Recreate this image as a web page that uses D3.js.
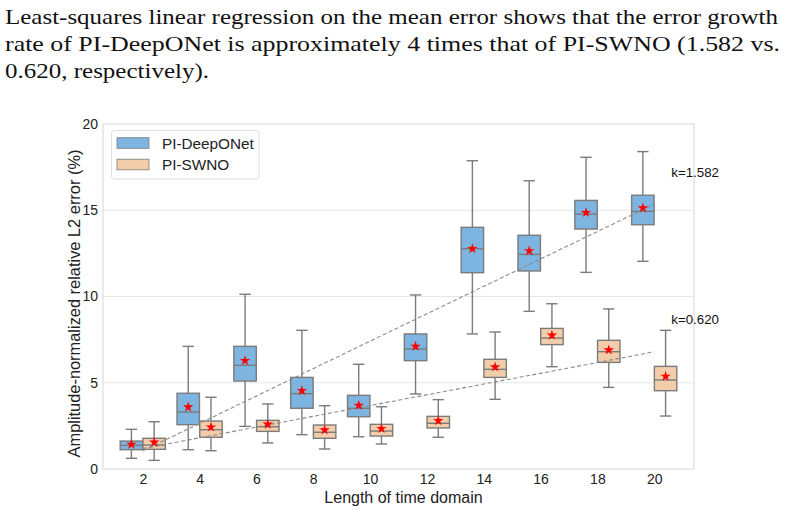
<!DOCTYPE html>
<html>
<head>
<meta charset="utf-8">
<script src="https://cdn.jsdelivr.net/npm/d3@7"></script>
<style>
  html, body { margin: 0; padding: 0; background: #fff; }
  svg { display: block; }
</style>
</head>
<body>
<svg id="chart" width="788" height="510"></svg>
<script>
// ---- Data ----
const categories = [2, 4, 6, 8, 10, 12, 14, 16, 18, 20];
const seriesNames = ["PI-DeepONet", "PI-SWNO"];
const yTicks = [0, 5, 10, 15, 20];

const deeponetLow    = [0.62, 1.12, 2.47, 1.99, 1.87, 4.35, 7.83, 9.14, 11.40, 12.04];
const deeponetQ1     = [1.12, 2.57, 5.10, 3.52, 3.03, 6.28, 11.38, 11.48, 13.91, 14.16];
const deeponetMedian = [1.37, 3.30, 6.01, 4.37, 3.52, 6.96, 12.77, 12.44, 14.78, 14.94];
const deeponetQ3     = [1.62, 4.39, 7.11, 5.31, 4.27, 7.83, 14.01, 13.55, 15.57, 15.87];
const deeponetHigh   = [2.30, 7.11, 10.13, 8.04, 6.07, 10.09, 17.87, 16.71, 18.07, 18.40];
const deeponetMean   = [1.43, 3.59, 6.28, 4.54, 3.69, 7.11, 12.77, 12.64, 14.86, 15.13];

const swnoLow    = [0.50, 1.06, 1.51, 1.16, 1.45, 1.84, 4.04, 5.93, 4.73, 3.07];
const swnoQ1     = [1.14, 1.84, 2.18, 1.78, 1.91, 2.38, 5.31, 7.21, 6.18, 4.54];
const swnoMedian = [1.39, 2.28, 2.45, 2.13, 2.20, 2.65, 5.78, 7.59, 6.80, 5.16];
const swnoQ3     = [1.78, 2.78, 2.82, 2.55, 2.59, 3.05, 6.36, 8.15, 7.46, 5.95];
const swnoHigh   = [2.74, 4.16, 3.77, 3.67, 3.61, 4.02, 7.94, 9.58, 9.28, 8.04];
const swnoMean   = [1.55, 2.43, 2.59, 2.26, 2.34, 2.80, 5.91, 7.75, 6.90, 5.37];

const slopeLabels = ["k=1.582", "k=0.620"];
const slopeLabelY = [17.2, 8.65];
const titleLines = [
  "Least-squares linear regression on the mean error shows that the error growth",
  "rate of PI-DeepONet is approximately 4 times that of PI-SWNO (1.582 vs.",
  "0.620, respectively)."
];

// ---- Build table ----
const colors = ["#7eb5e0", "#f3cdaa"];
const gray = "#7b7b7b";
const series = [
  {name: seriesNames[0], color: colors[0], low: deeponetLow, q1: deeponetQ1, med: deeponetMedian, q3: deeponetQ3, high: deeponetHigh, mean: deeponetMean, off: -0.2},
  {name: seriesNames[1], color: colors[1], low: swnoLow, q1: swnoQ1, med: swnoMedian, q3: swnoQ3, high: swnoHigh, mean: swnoMean, off: 0.2}
];

const svg = d3.select("#chart");

// ---- Title paragraph ----
const titleG = svg.append("g").attr("font-family", "'Liberation Serif', 'Times New Roman', serif")
  .attr("font-size", 22).attr("fill", "#111");
const titleBase = [24, 51, 78];
const titleLen = [773, 775, 204];
titleLines.forEach((t, i) => {
  titleG.append("text").attr("x", 5).attr("y", titleBase[i])
    .attr("textLength", titleLen[i]).attr("lengthAdjust", "spacingAndGlyphs").text(t);
});

// ---- Scales ----
const x = d3.scaleLinear().domain([-0.7, 9.7]).range([103, 694]);
const y = d3.scaleLinear().domain([0, 20]).range([469, 124]);
const unit = x(1) - x(0);

const font = "'Liberation Sans', Arial, sans-serif";

// grid
svg.append("g").selectAll("line").data(yTicks.filter(d => d > 0 && d < 20)).join("line")
  .attr("x1", x.range()[0]).attr("x2", x.range()[1])
  .attr("y1", d => y(d)).attr("y2", d => y(d))
  .attr("stroke", "#e6e6e6").attr("stroke-width", 1.2);

// frame
svg.append("rect").attr("x", 103).attr("y", 124).attr("width", 694 - 103).attr("height", 469 - 124)
  .attr("fill", "none").attr("stroke", "#dcdcdc").attr("stroke-width", 1.2);

// y axis
const yAxis = d3.axisLeft(y).tickValues(yTicks).tickSize(0).tickPadding(5).tickFormat(d3.format("d"));
const yg = svg.append("g").attr("transform", `translate(103,0)`).call(yAxis)
  .attr("font-family", font).attr("font-size", 14);
yg.select(".domain").remove();
yg.selectAll("text").attr("fill", "#222");

// x axis
const xAxis = d3.axisBottom(x).tickValues(d3.range(categories.length)).tickSize(0).tickPadding(5)
  .tickFormat(i => categories[i]);
const xg = svg.append("g").attr("transform", `translate(0,469)`).call(xAxis)
  .attr("font-family", font).attr("font-size", 14);
xg.select(".domain").remove();
xg.selectAll("text").attr("fill", "#222");

// axis labels
svg.append("text").attr("x", (103 + 694) / 2 + 5).attr("y", 503).attr("text-anchor", "middle")
  .attr("font-family", font).attr("font-size", 16).attr("fill", "#222").text("Length of time domain");
svg.append("text").attr("transform", `translate(80,${(124 + 469) / 2 + 7}) rotate(-90)`)
  .attr("text-anchor", "middle").attr("font-family", font).attr("font-size", 16.4).attr("fill", "#222")
  .text("Amplitude-normalized relative L2 error (%)");

// ---- Boxes ----
const bw = 0.395 * unit;
const cw = 0.2 * unit;
series.forEach(s => {
  const g = svg.append("g");
  categories.forEach((c, i) => {
    const cx = x(i + s.off);
    g.append("line").attr("x1", cx).attr("x2", cx).attr("y1", y(s.q3[i])).attr("y2", y(s.high[i]))
      .attr("stroke", gray).attr("stroke-width", 1.4);
    g.append("line").attr("x1", cx).attr("x2", cx).attr("y1", y(s.q1[i])).attr("y2", y(s.low[i]))
      .attr("stroke", gray).attr("stroke-width", 1.4);
    [s.high[i], s.low[i]].forEach(v => {
      g.append("line").attr("x1", cx - cw / 2).attr("x2", cx + cw / 2).attr("y1", y(v)).attr("y2", y(v))
        .attr("stroke", gray).attr("stroke-width", 1.4);
    });
    g.append("rect").attr("x", cx - bw / 2).attr("y", y(s.q3[i]))
      .attr("width", bw).attr("height", y(s.q1[i]) - y(s.q3[i]))
      .attr("fill", s.color).attr("stroke", gray).attr("stroke-width", 1.4);
    g.append("line").attr("x1", cx - bw / 2).attr("x2", cx + bw / 2)
      .attr("y1", y(s.med[i])).attr("y2", y(s.med[i]))
      .attr("stroke", gray).attr("stroke-width", 1.4);
  });
});

// ---- Regression lines (least squares on means) ----
function fit(vals) {
  const n = vals.length, xs = d3.range(n);
  const mx = d3.mean(xs), my = d3.mean(vals);
  const sxy = d3.sum(xs, i => (i - mx) * (vals[i] - my));
  const sxx = d3.sum(xs, i => (i - mx) ** 2);
  const k = sxy / sxx;
  return {k, b: my - k * mx};
}
series.forEach((s, si) => {
  const f = fit(s.mean);
  const n = categories.length - 1;
  svg.append("line")
    .attr("x1", x(0)).attr("y1", y(f.b))
    .attr("x2", x(n)).attr("y2", y(f.b + f.k * n))
    .attr("stroke", "#8a8a8a").attr("stroke-width", 1.1).attr("stroke-dasharray", "4,2.5");
  svg.append("text").attr("x", x(9.3)).attr("y", y(slopeLabelY[si])).attr("dy", "0.35em")
    .attr("font-family", font).attr("font-size", 13.3).attr("fill", "#111").text(slopeLabels[si]);
});

// ---- Mean stars ----
const star = d3.symbol().type(d3.symbolStar).size(34);
series.forEach(s => {
  svg.append("g").selectAll("path").data(s.mean).join("path")
    .attr("d", star)
    .attr("transform", (d, i) => `translate(${x(i + s.off)},${y(d)})`)
    .attr("fill", "#ff0000");
});

// ---- Legend ----
const lg = svg.append("g");
lg.append("rect").attr("x", 111.5).attr("y", 130.5).attr("width", 147.5).attr("height", 48.5)
  .attr("rx", 3).attr("fill", "#fff").attr("fill-opacity", 0.85).attr("stroke", "#dedede").attr("stroke-width", 1);
series.forEach((s, i) => {
  const cy = 143 + i * 21.5;
  lg.append("rect").attr("x", 117).attr("y", cy - 5.3).attr("width", 32).attr("height", 10.6)
    .attr("fill", s.color).attr("stroke", gray).attr("stroke-width", 0.8);
  lg.append("text").attr("x", 162).attr("y", cy).attr("dy", "0.36em")
    .attr("font-family", font).attr("font-size", 15.3).attr("fill", "#222").text(s.name);
});
</script>
</body>
</html>
